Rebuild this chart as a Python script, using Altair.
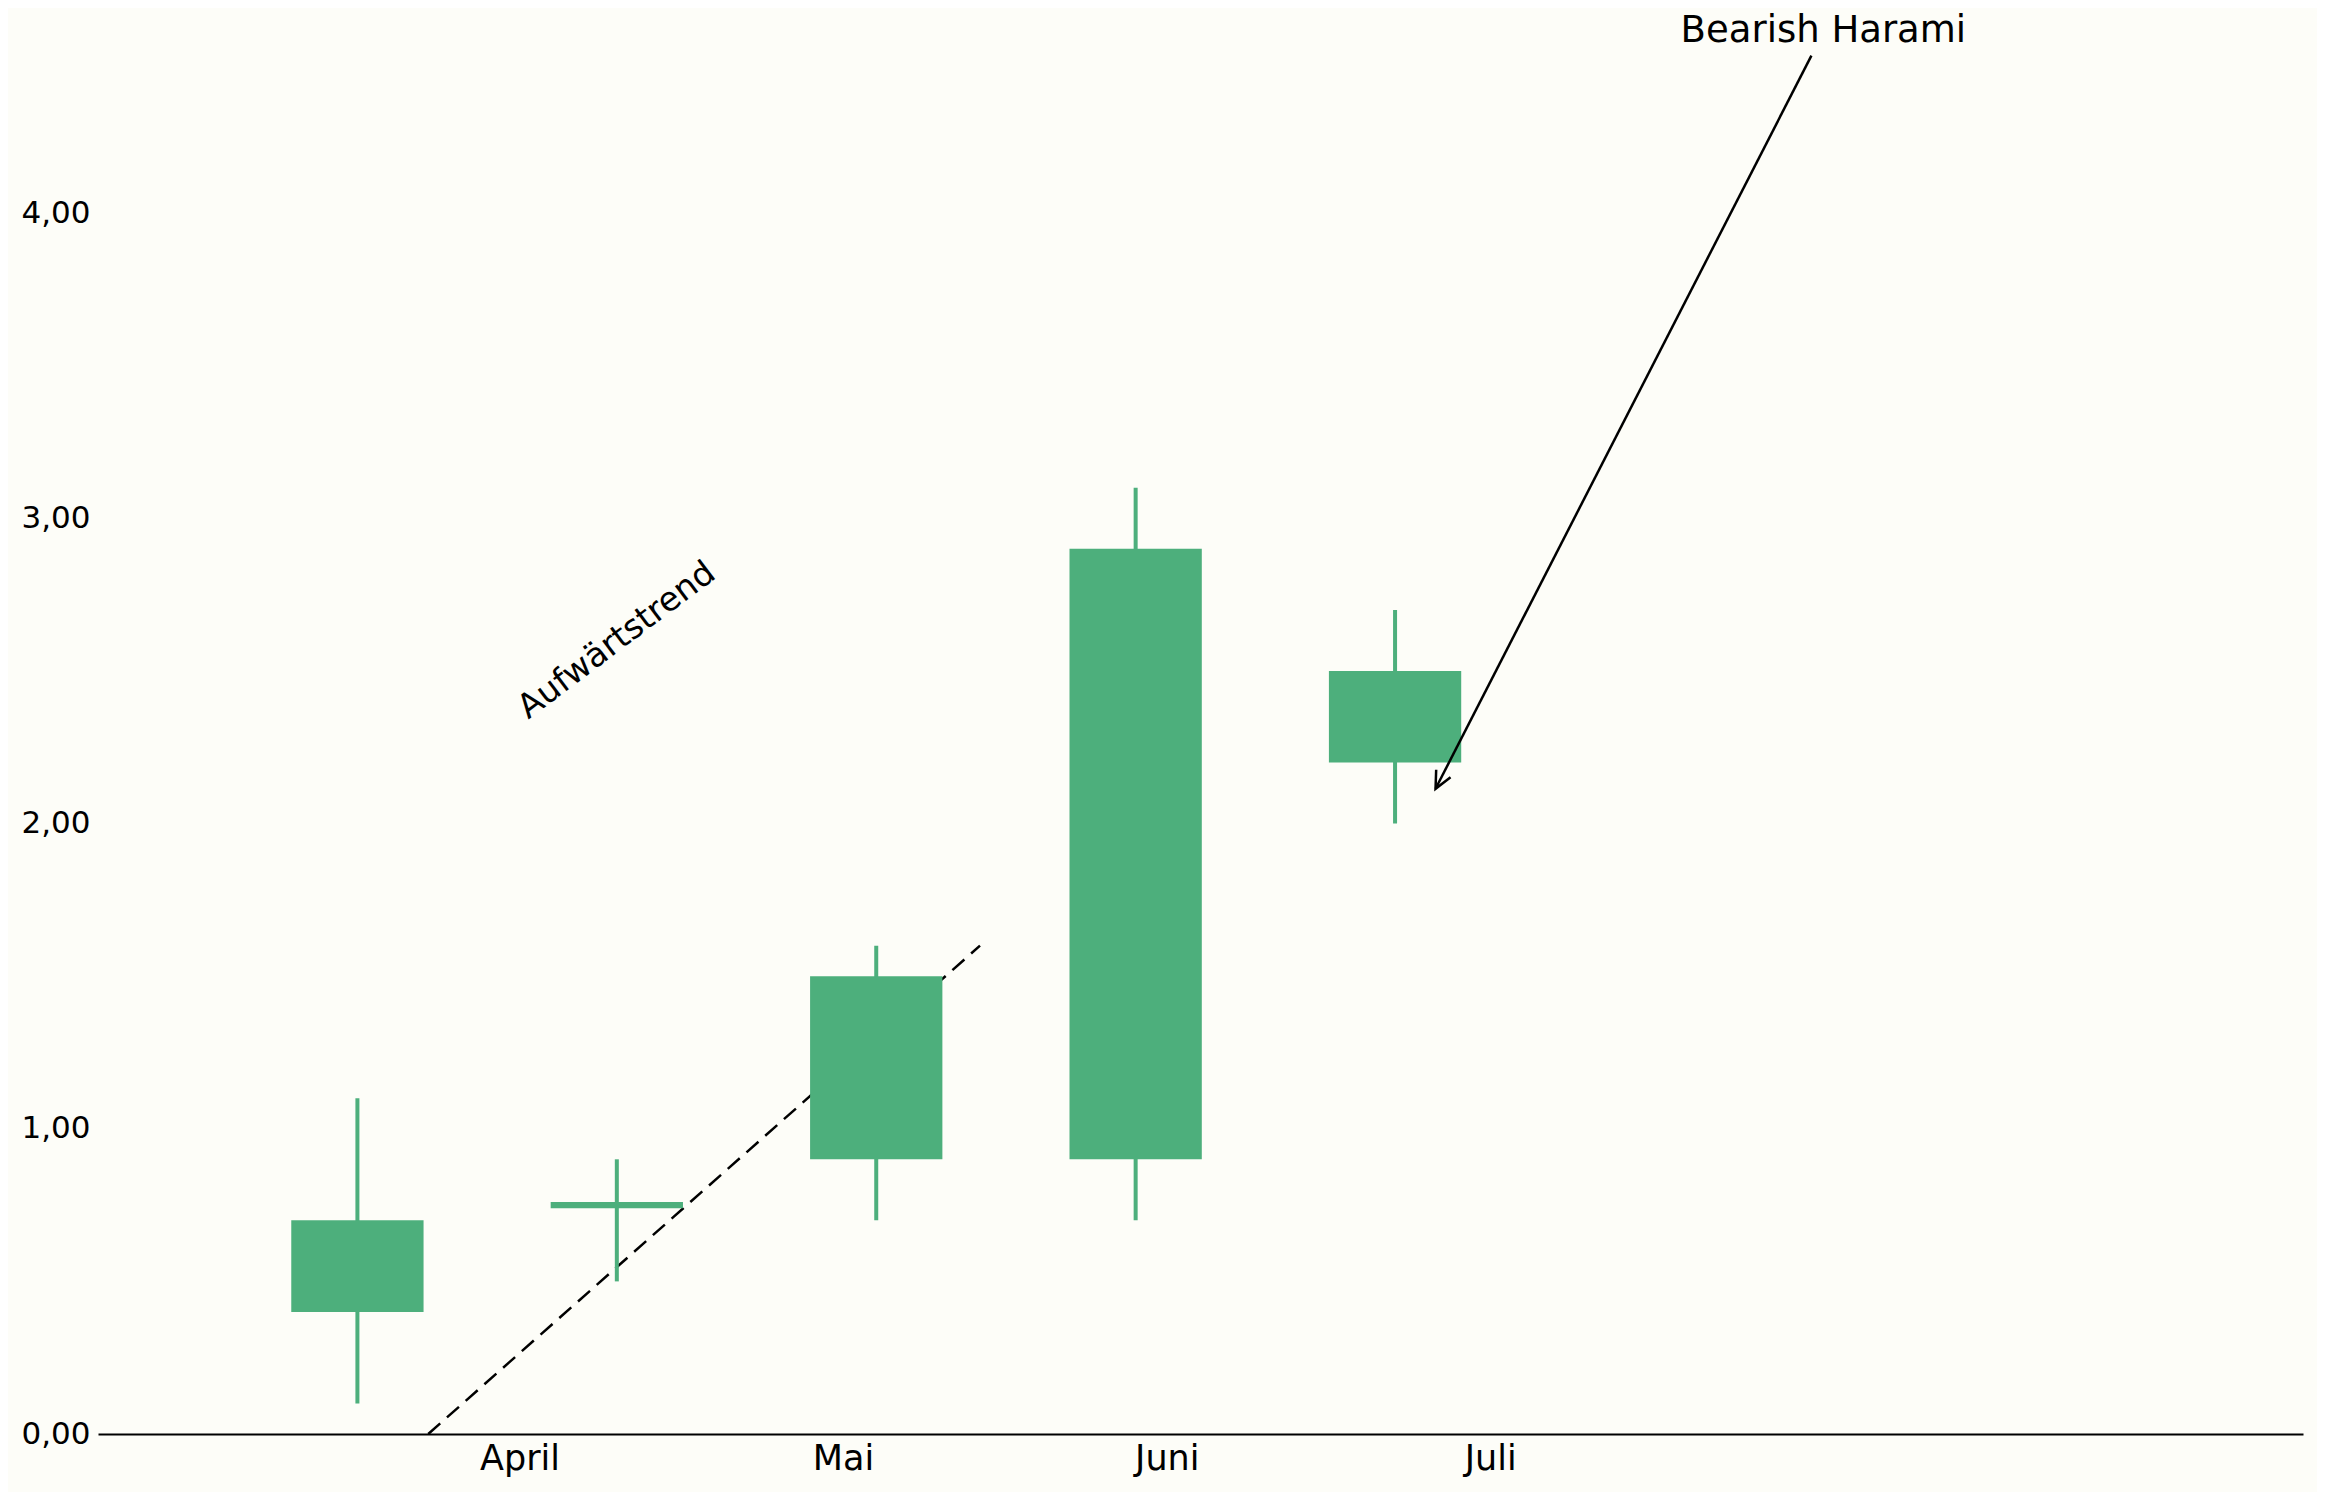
import math
import altair as alt
import pandas as pd

# ---- data ----
slots = [1, 2, 3, 4, 5]
body_low = [0.40, 0.74, 0.90, 0.90, 2.20]
body_high = [0.70, 0.76, 1.50, 2.90, 2.50]
wick_low = [0.10, 0.50, 0.70, 0.70, 2.00]
wick_high = [1.10, 0.90, 1.60, 3.10, 2.70]

month_pos = [1.625, 2.872, 4.12, 5.367]
month_labels = ["April", "Mai", "Juni", "Juli"]
y_ticks = [0, 1, 2, 3, 4]

trend_x = [1.273, 3.40]
trend_y = [0.0, 1.60]
trend_label = "Aufwärtstrend"
trend_label_pos = [2.0, 2.6]

harami_label = "Bearish Harami"
harami_label_pos = [6.651, 4.562]
arrow_start = [6.605, 4.516]
arrow_end = [5.156, 2.114]

# ---- layout / style ----
W, H = 2205, 1404
X_DOM = [0, 8.5]
Y_DOM = [0, 4.6]
GREEN = "#4daf7c"
BG = "#fdfdf8"
FONT = "DejaVu Sans"
HALF = 0.255

candles = pd.DataFrame({
    "x": slots,
    "xl": [s - HALF for s in slots],
    "xr": [s + HALF for s in slots],
    "bl": body_low, "bh": body_high,
    "wl": wick_low, "wh": wick_high,
})

label_expr = "''"
for p, l in reversed(list(zip(month_pos, month_labels))):
    label_expr = f"abs(datum.value - {p}) < 0.01 ? '{l}' : ({label_expr})"

xs = alt.Scale(domain=X_DOM, nice=False, zero=False)
ys = alt.Scale(domain=Y_DOM, nice=False, zero=False)

x_axis = alt.Axis(values=month_pos, labelExpr=label_expr, title=None, grid=False,
                  ticks=False, tickSize=0, labelFontSize=35, labelFont=FONT,
                  labelColor="black", labelPadding=7, domainColor="black",
                  domainWidth=2, labelFlush=False)
y_axis = alt.Axis(values=y_ticks, labelExpr="replace(format(datum.value, '.2f'), '.', ',')",
                  title=None, grid=False, ticks=False, tickSize=0, domain=False,
                  labelFontSize=31, labelFont=FONT, labelColor="black", labelPadding=8)

base = alt.Chart(candles)

trend_df = pd.DataFrame({"x": [trend_x[0]], "x2": [trend_x[1]],
                         "y": [trend_y[0]], "y2": [trend_y[1]]})
trend = alt.Chart(trend_df).mark_rule(color="black", strokeWidth=2.5,
                                      strokeDash=[16, 9]).encode(
    x=alt.X("x:Q", scale=xs, axis=x_axis), x2="x2:Q",
    y=alt.Y("y:Q", scale=ys, axis=y_axis), y2="y2:Q",
)

wicks = base.mark_rule(color=GREEN, strokeWidth=4).encode(
    x=alt.X("x:Q", scale=xs),
    y=alt.Y("wl:Q", scale=ys),
    y2="wh:Q",
)

bodies = base.mark_rect(color=GREEN).encode(
    x=alt.X("xl:Q", scale=xs),
    x2="xr:Q",
    y=alt.Y("bl:Q", scale=ys),
    y2="bh:Q",
)

trend_text_df = pd.DataFrame({"x": [trend_label_pos[0]], "y": [trend_label_pos[1]],
                              "t": [trend_label]})
trend_text = alt.Chart(trend_text_df).mark_text(
    angle=323, fontSize=33.5, font=FONT, color="black", align="center", baseline="middle"
).encode(x=alt.X("x:Q", scale=xs), y=alt.Y("y:Q", scale=ys), text="t:N")

harami_df = pd.DataFrame({"x": [harami_label_pos[0]], "y": [harami_label_pos[1]],
                          "t": [harami_label]})
harami_text = alt.Chart(harami_df).mark_text(
    fontSize=37, font=FONT, color="black", align="center", baseline="alphabetic"
).encode(x=alt.X("x:Q", scale=xs), y=alt.Y("y:Q", scale=ys), text="t:N")

arrow_df = pd.DataFrame({"x": [arrow_start[0]], "x2": [arrow_end[0]],
                         "y": [arrow_start[1]], "y2": [arrow_end[1]]})
arrow_line = alt.Chart(arrow_df).mark_rule(color="black", strokeWidth=2.5).encode(
    x=alt.X("x:Q", scale=xs), x2="x2:Q",
    y=alt.Y("y:Q", scale=ys), y2="y2:Q",
)

px_x = W / (X_DOM[1] - X_DOM[0])
px_y = H / (Y_DOM[1] - Y_DOM[0])
dx = (arrow_end[0] - arrow_start[0]) * px_x
dy = -(arrow_end[1] - arrow_start[1]) * px_y
head_angle = math.degrees(math.atan2(dy, dx)) % 360

head_df = pd.DataFrame({"x": [arrow_end[0]], "y": [arrow_end[1]]})
arrow_head = alt.Chart(head_df).mark_point(
    shape="M -1 -0.47 L 0 0 L -1 0.47", filled=False, color="black",
    strokeWidth=2.5, size=1180, angle=head_angle, opacity=1
).encode(x=alt.X("x:Q", scale=xs), y=alt.Y("y:Q", scale=ys))

chart = alt.layer(trend, wicks, bodies, trend_text, arrow_line, arrow_head, harami_text).properties(
    width=W, height=H,
    autosize=alt.AutoSizeParams(type="none"),
    padding={"left": 90, "top": 22, "right": 14, "bottom": 58},
    background=BG,
).configure_view(stroke=None)

chart.save("out.html", embed_options={"renderer": "svg", "actions": False})
